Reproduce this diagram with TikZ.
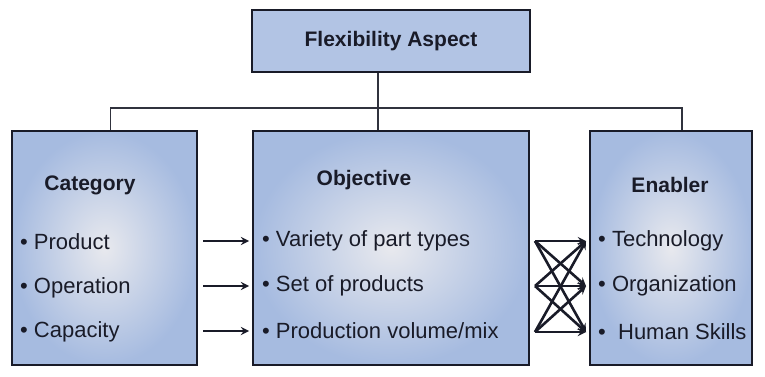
\documentclass[tikz,border=0pt]{standalone}
\usepackage{fontspec}
\setmainfont{Liberation Sans}
\usepackage{xcolor}
\usepackage{tikz}
\usetikzlibrary{shapes,arrows,positioning}

\definecolor{flexblue}{RGB}{178,196,228}
\definecolor{glowin}{RGB}{232,233,238}
\definecolor{glowout}{RGB}{166,187,224}
\definecolor{inkdark}{RGB}{25,27,40}

\begin{document}
\begin{tikzpicture}[
    x=1pt, y=-1pt,
    topbox/.style={rectangle, draw=inkdark, line width=1.8pt, fill=flexblue, minimum width=278pt, minimum height=62pt, font=\fontsize{21}{24}\selectfont\bfseries, text=inkdark},
    panel/.style={rectangle, draw=inkdark, line width=1.8pt, shading=radial, inner color=glowin, outer color=glowout, minimum height=234pt},
    heading/.style={font=\fontsize{21}{24}\selectfont\bfseries, text=inkdark},
    item/.style={anchor=west, font=\fontsize{22}{26}\selectfont, text=inkdark, inner sep=0pt},
    link/.style={draw=inkdark!90, line width=1.8pt},
    arrow/.style={->, >=stealth, line width=2.6pt, draw=inkdark}
]
    \useasboundingbox (0,0) rectangle (765,376);

    % Top of the tree
    \node[topbox] (aspect) at (391,41) {Flexibility Aspect};

    % Three panels
    \node[panel, minimum width=185pt] (cat) at (104.5,248) {};
    \node[panel, minimum width=276pt] (obj) at (391,248) {};
    \node[panel, minimum width=162pt] (enb) at (671,248) {};

    % Tree connectors
    \coordinate (bus) at (378,108);
    \draw[link] ([xshift=-13pt]aspect.south) -- ([xshift=-13pt]obj.north);
    \draw[link] ([xshift=6pt]cat.north) |- (bus) -| ([xshift=11pt]enb.north);

    % Headings
    \node[heading] (cattitle) at (90,185) {Category};
    \node[heading] (objtitle) at (364,180) {Objective};
    \node[heading] (enbtitle) at (670,185) {Enabler};

    % Category items
    \node[item] (c1) at (20,242) {\textbullet\ Product};
    \node[item] (c2) at (20,288) {\textbullet\ Operation};
    \node[item] (c3) at (20,332) {\textbullet\ Capacity};

    % Objective items
    \node[item] (o1) at (262,241) {\textbullet\ Variety of part types};
    \node[item] (o2) at (262,286) {\textbullet\ Set of products};
    \node[item] (o3) at (262,331) {\textbullet\ Production volume/mix};

    % Enabler items
    \node[item] (e1) at (598,241) {\textbullet\ Technology};
    \node[item] (e2) at (598,286) {\textbullet\ Organization};
    \node[item] (e3) at (598,332) {\textbullet\ \ Human Skills};

    % Category -> Objective
    \foreach \i in {1,2,3} {
        \coordinate (a\i) at (203,0 |- o\i);
        \draw[arrow] (a\i) -- ([xshift=-3pt]obj.west |- o\i);
    }

    % Objective -> Enabler, every pair
    \foreach \i in {1,2,3} {
        \coordinate (s\i) at (535,0 |- e\i);
        \coordinate (t\i) at (586,0 |- e\i);
    }
    \foreach \i in {1,2,3}
        \foreach \j in {1,2,3}
            \draw[arrow] (s\i) -- (t\j);

\end{tikzpicture}
\end{document}
